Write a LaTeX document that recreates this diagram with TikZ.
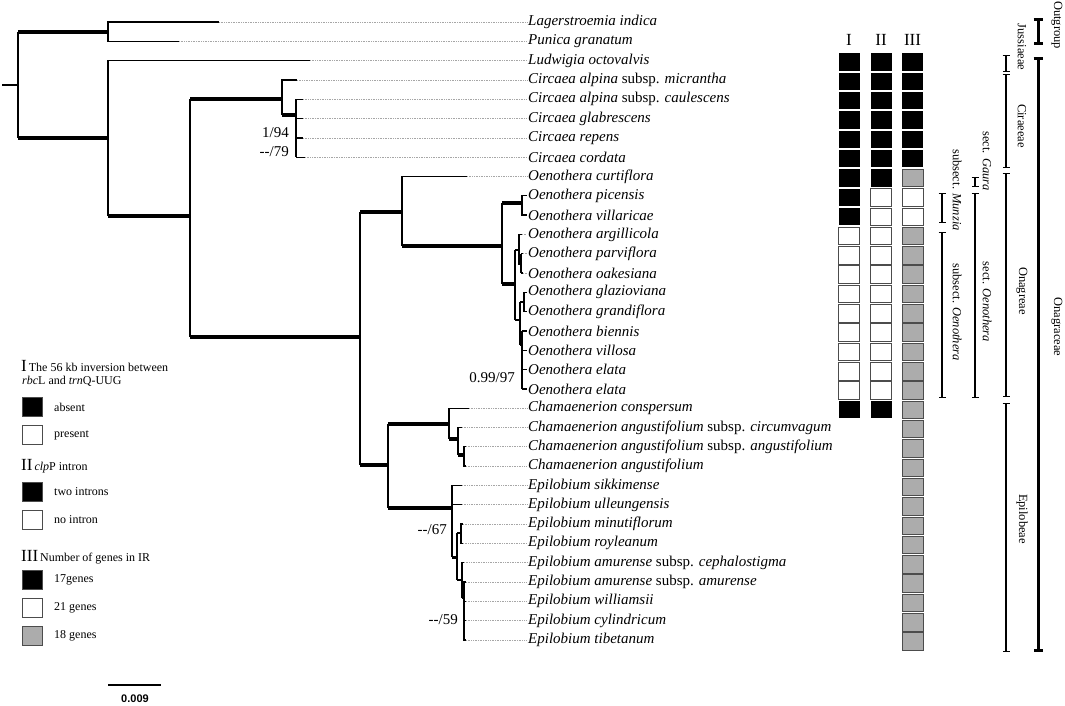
\documentclass[tikz,border=0pt]{standalone}
\usepackage{fontspec}
\setmainfont{Liberation Serif}
\newfontfamily\barfont{Liberation Sans}
\usetikzlibrary{arrows.meta}

\begin{document}
\begin{tikzpicture}[x=1pt,y=-1pt,
  br/.style={line width=1.3pt},
  thk/.style={line width=4pt},
  leader/.style={gray!70,densely dotted,line width=0.7pt},
  taxon/.style={anchor=west,inner sep=0pt,font=\fontsize{15}{17}\selectfont\itshape},
  supp/.style={anchor=east,inner sep=0pt,font=\fontsize{15}{17}\selectfont},
  chr/.style={minimum width=21pt,minimum height=17.5pt,inner sep=0pt},
  blk/.style={chr,fill=black},
  wht/.style={chr,fill=white,draw=black!70,line width=0.6pt},
  gry/.style={chr,fill=gray!65,draw=black!70,line width=0.6pt},
  colhead/.style={font=\fontsize{17}{19}\selectfont},
  grp/.style={font=\fontsize{12.5}{14}\selectfont,rotate=-90,inner sep=0pt},
  bracket/.style={line width=1.2pt,{Bar[width=7pt]}-{Bar[width=7pt]}},
  bigbracket/.style={line width=3pt,{Bar[width=9pt]}-{Bar[width=9pt]}},
  legbox/.style={minimum width=20pt,minimum height=19pt,inner sep=0pt,draw=black!70,line width=0.6pt},
  leg/.style={anchor=west,inner sep=0pt,font=\fontsize{12}{14}\selectfont}
]
\useasboundingbox (0,0) rectangle (1065,706);

% Taxa
\foreach \nm [count=\i] in {Lagerstroemia indica, Punica granatum, Ludwigia octovalvis,
  Circaea alpina \textup{subsp.} micrantha, Circaea alpina \textup{subsp.} caulescens,
  Circaea glabrescens, Circaea repens, Circaea cordata, Oenothera curtiflora,
  Oenothera picensis, Oenothera villaricae, Oenothera argillicola, Oenothera parviflora,
  Oenothera oakesiana, Oenothera glazioviana, Oenothera grandiflora, Oenothera biennis,
  Oenothera villosa, Oenothera elata, Oenothera elata, Chamaenerion conspersum,
  Chamaenerion angustifolium \textup{subsp.} circumvagum,
  Chamaenerion angustifolium \textup{subsp.} angustifolium, Chamaenerion angustifolium,
  Epilobium sikkimense, Epilobium ulleungensis, Epilobium minutiflorum, Epilobium royleanum,
  Epilobium amurense \textup{subsp.} cephalostigma, Epilobium amurense \textup{subsp.} amurense,
  Epilobium williamsii, Epilobium cylindricum, Epilobium tibetanum}{
  \node[taxon] (t\i) at (528,{22+19.31*(\i-1)}) {\nm};
}

% dotted leaders from branch tips
\foreach \i/\tx in {1/219,2/179,3/310,4/297,5/303,6/303,7/303,8/305,9/467,
  12/522,13/523,14/523,21/469,22/462,23/466,24/466,25/462,26/462,27/463,28/463,
  29/464,30/466,31/466,32/466,33/466}{
  \draw[leader] (\tx,{22+19.31*(\i-1)}) -- ([xshift=-1pt]t\i.west);
}

% Root and outgroup
\draw[br] (2,85) -- (18,85);
\draw[br] (18,32) -- (18,138);
\draw[thk] (18,32) -- (108,32);
\draw[thk] (18,138) -- (108,138);
\draw[br] (219,22) -| (108,41.3) -- (179,41.3);

% Ludwigia / rest
\draw[br] (310,60.6) -| (108,216);
\draw[thk] (108,216) -- (190,216);
\draw[br] (190,99) -- (190,337);
\draw[thk] (190,99) -- (282,99);
\draw[thk] (190,337) -- (360,337);

% Circaea
\draw[br] (297,79.9) -| (282,115);
\draw[thk] (282,115) -- (296,115);
\draw[br] (296,99.2) -- (296,157.2);
\draw[line width=2.5pt] (296,115) -- (296,132);
\foreach \y in {99.2,118.6,137.9} \draw[br] (296,\y) -- (303,\y);
\draw[br] (296,157.2) -- (305,157.2);

% Oenothera
\draw[br] (360,212) -- (360,465);
\draw[thk] (360,212) -- (402,212);
\draw[br] (467,176.5) -| (402,246);
\draw[thk] (402,246) -- (502,246);
\draw[br] (502,203) -- (502,284);
\draw[thk] (502,203) -- (522,203);
\draw[br] (527,195.8) -| (522,215.1) -- (527,215.1);
\draw[thk] (502,284) -- (515,284);
\draw[line width=2.5pt] (515,250) -- (515,320);
\draw[line width=2.5pt] (515,250) -- (519,250);
\draw[br] (522,234.4) -| (519,264) -- (521,264);
\draw[line width=2pt] (521,253.7) -- (521,273);
\draw[br] (521,253.7) -- (523,253.7);
\draw[br] (521,273) -- (523,273);
\draw[line width=2.5pt] (515,320) -- (520,320);
\draw[line width=2pt] (520,302) -- (520,345);
\draw[line width=2.5pt] (520,302) -- (524,302);
\draw[br] (527,292.3) -| (524,311.7) -- (527,311.7);
\draw[br] (520,345) -- (522,345);
\draw[line width=2pt] (522,331) -- (522,388.9);
\foreach \y in {331,350.3,369.6,388.9} \draw[br] (522,\y) -- (527,\y);

% Chamaenerion
\draw[thk] (360,465) -- (388,465);
\draw[br] (388,424) -- (388,508);
\draw[thk] (388,424) -- (449,424);
\draw[br] (469,408.2) -| (449,439);
\draw[thk] (449,439) -- (458,439);
\draw[br] (462,427.5) -| (458,455);
\draw[thk] (458,455) -- (464,455);
\draw[br] (466,446.8) -| (464,466.1) -- (466,466.1);

% Epilobium
\draw[thk] (388,508) -- (452,508);
\draw[br] (462,485.4) -| (452,557);
\draw[line width=2.5pt] (452,508) -- (452,557);
\draw[br] (452,504.8) -- (462,504.8);
\draw[line width=3pt] (452,557) -- (457,557);
\draw[br] (457,533) -- (457,580);
\draw[line width=2.5pt] (457,533) -- (461,533);
\draw[br] (463,524.1) -| (461,543.4) -- (463,543.4);
\draw[line width=2.5pt] (457,580) -- (462,580);
\draw[br] (464,562.7) -| (462,598);
\draw[line width=2.5pt] (462,598) -- (464,598);
\draw[br] (466,582) -| (464,639.9) -- (466,639.9);
\foreach \y in {601.3,620.6} \draw[br] (464,\y) -- (466,\y);

% Support values
\node[supp] (s1) at (289,133) {1/94};
\node[supp] (s2) at (289,152) {-{}-/79};
\node[supp] (s3) at (515,378) {0.99/97};
\node[supp] (s4) at (447,530) {-{}-/67};
\node[supp] (s5) at (458,620) {-{}-/59};

% Character columns
\node[colhead] (hI) at (849,40) {I};
\node[colhead] (hII) at (881,40) {II};
\node[colhead] (hIII) at (912.5,40) {III};
\foreach \i in {3,...,11,21,...,33} \node[blk] (a\i) at (849,{23.5+19.31*(\i-1)}) {};
\foreach \i in {12,...,20} \node[wht] (a\i) at (849,{23.5+19.31*(\i-1)}) {};
\foreach \i in {3,...,9,21,...,33} \node[blk] (b\i) at (881,{23.5+19.31*(\i-1)}) {};
\foreach \i in {10,...,20} \node[wht] (b\i) at (881,{23.5+19.31*(\i-1)}) {};
\foreach \i in {3,...,8} \node[blk] (c\i) at (912.5,{23.5+19.31*(\i-1)}) {};
\foreach \i in {9,12,13,...,33} \node[gry] (c\i) at (912.5,{23.5+19.31*(\i-1)}) {};
\foreach \i in {10,11} \node[wht] (c\i) at (912.5,{23.5+19.31*(\i-1)}) {};

% Group brackets
\draw[bigbracket] (1038,18) -- (1038,45);
\draw[bigbracket] (1038,57) -- (1038,652);
\draw[bracket] (1006,55) -- (1006,72);
\draw[bracket] (1006,74) -- (1006,168);
\draw[bracket] (1006,173) -- (1006,397);
\draw[bracket] (1006,403) -- (1006,652);
\draw[bracket] (975,177) -- (975,187);
\draw[bracket] (975,193) -- (975,398);
\draw[bracket] (942,193) -- (942,223);
\draw[bracket] (942,232) -- (942,398);
\node[grp] (gOut) at (1057,25) {Outgroup};
\node[grp] (gOna) at (1057,327) {Onagraceae};
\node[grp] (gJus) at (1022,47) {Jussiaeae};
\node[grp] (gCir) at (1022,126) {Ciraeeae};
\node[grp] (gOgr) at (1022,291) {Onagreae};
\node[grp] (gEpi) at (1022,519) {Epilobeae};
\node[grp] (gGau) at (987,161) {sect. \textit{Gaura}};
\node[grp] (gOen) at (987,302) {sect. \textit{Oenothera}};
\node[grp] (gMun) at (957,190) {subsect. \textit{Munzia}};
\node[grp] (gSOe) at (957,312) {subsect. \textit{Oenothera}};

% Legend
\node[leg] (l1) at (21,366) {{\fontsize{17}{19}\selectfont I}\,The 56 kb inversion between};
\node[leg] (l2) at (22,381) {\textit{rbc}L and \textit{trn}Q-UUG};
\node[legbox,fill=black] (k1) at (32,407) {};
\node[leg] (k1t) at (54,407) {absent};
\node[legbox,fill=white] (k2) at (32,435) {};
\node[leg] (k2t) at (54,435) {present};
\node[leg] (l3) at (21,466) {{\fontsize{17}{19}\selectfont II}\,\textit{clp}P intron};
\node[legbox,fill=black] (k3) at (32,492) {};
\node[leg] (k3t) at (54,492) {two introns};
\node[legbox,fill=white] (k4) at (32,520) {};
\node[leg] (k4t) at (54,520) {no intron};
\node[leg] (l4) at (21,557) {{\fontsize{17}{19}\selectfont III}\,Number of genes in IR};
\node[legbox,fill=black] (k5) at (32,580) {};
\node[leg] (k5t) at (54,580) {17genes};
\node[legbox,fill=white] (k6) at (32,608) {};
\node[leg] (k6t) at (54,608) {21 genes};
\node[legbox,fill=gray!65] (k7) at (32,636) {};
\node[leg] (k7t) at (54,636) {18 genes};

% Scale bar
\draw[line width=1.5pt] (108,685) -- (161,685);
\node[font=\barfont\bfseries\fontsize{11}{13}\selectfont] (sc) at (135,699) {0.009};

\end{tikzpicture}
\end{document}
